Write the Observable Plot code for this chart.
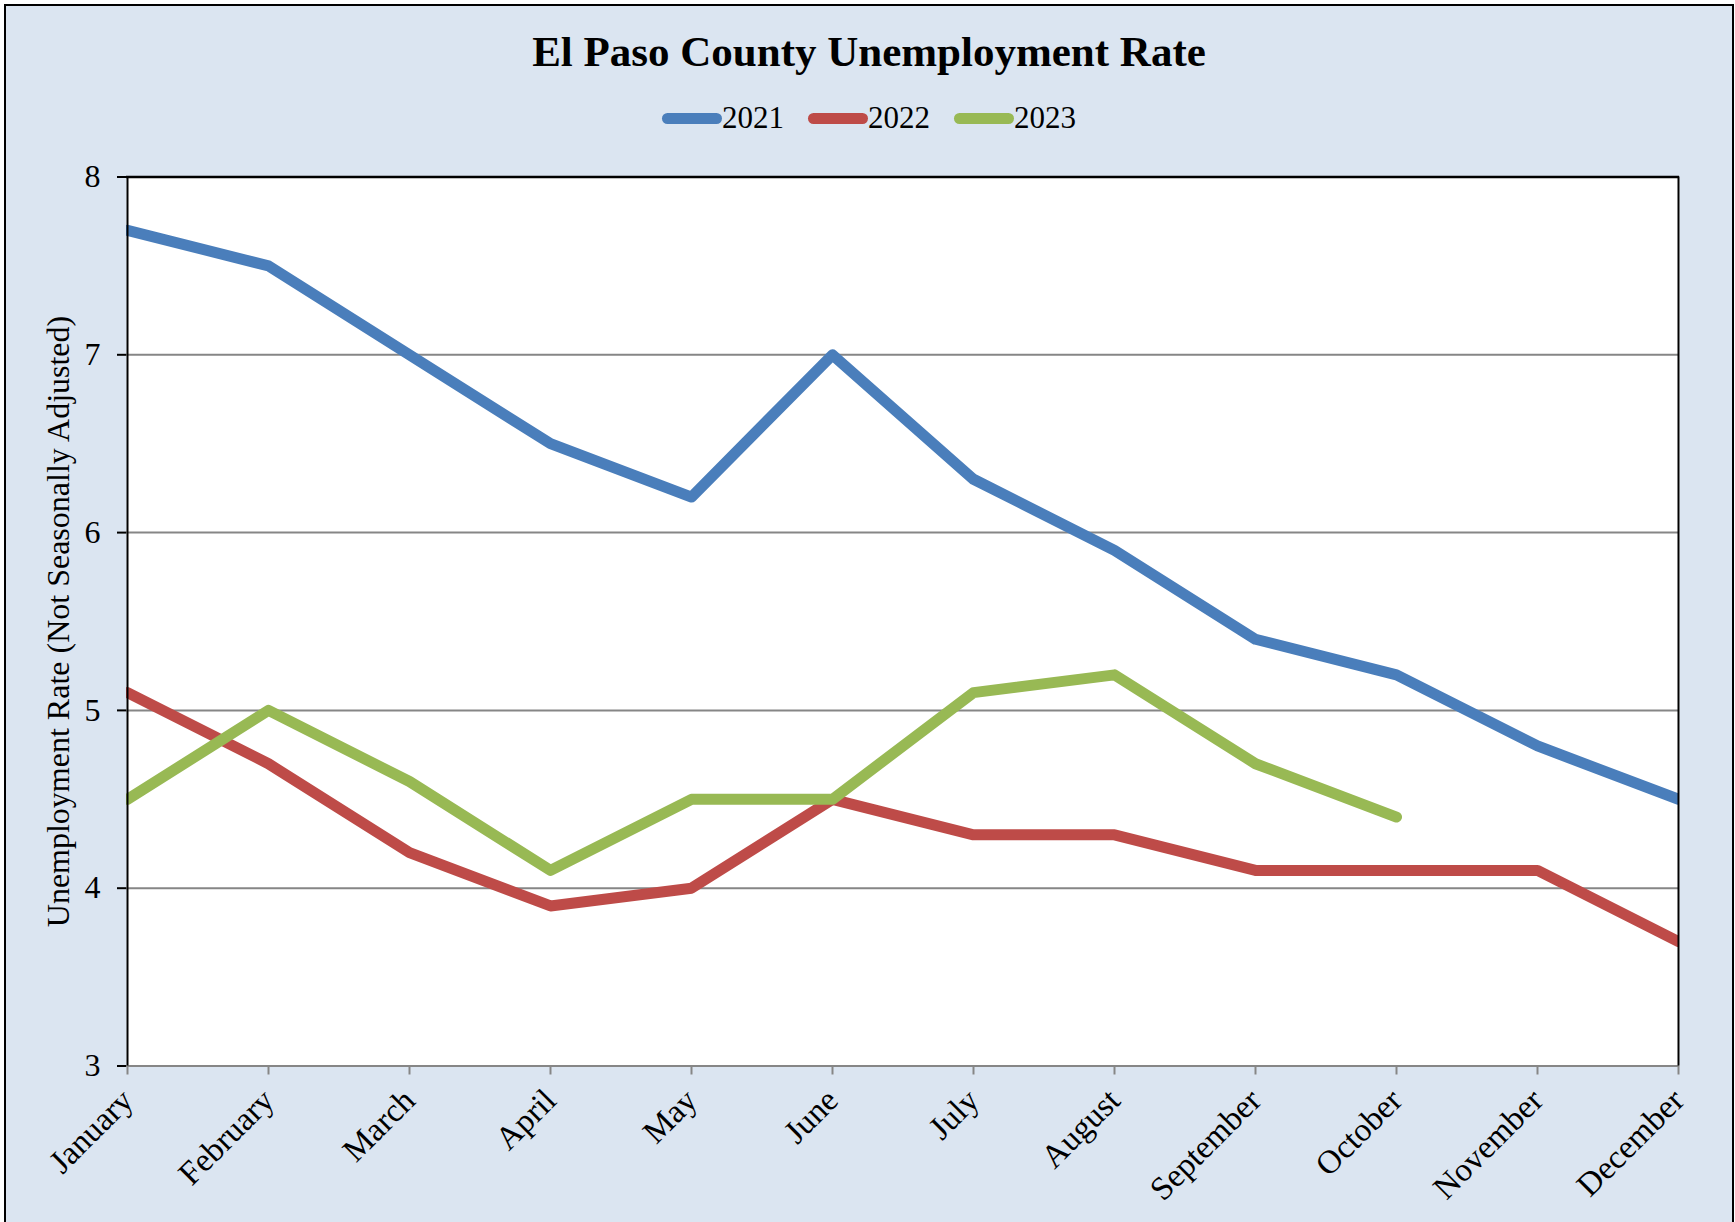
<!DOCTYPE html>
<html>
<head>
<meta charset="utf-8">
<script src="https://cdn.jsdelivr.net/npm/d3@7"></script>
<script src="https://cdn.jsdelivr.net/npm/@observablehq/plot@0.6"></script>
<style>
  html, body { margin: 0; padding: 0; background: #fff; }
  body { width: 1735px; height: 1222px; position: relative; overflow: hidden; font-family: "Liberation Serif", "Times New Roman", serif; }
  #frame { position: absolute; left: 4px; top: 4px; width: 1730px; height: 1240px; box-sizing: border-box; border: 2px solid #000; background: #dbe5f1; }
  #title { position: absolute; left: 0; top: 28px; width: 1738px; text-align: center; font-weight: bold; font-size: 43px; line-height: 48px; color: #000; }
  #legend { position: absolute; left: 0; top: 100px; width: 1738px; display: flex; justify-content: center; align-items: center; font-size: 31px; line-height: 36px; color: #000; }
  .item { display: flex; align-items: center; margin: 0 12px; }
  .sw { width: 60px; height: 11px; border-radius: 5.5px; }
  #chart { position: absolute; left: 0; top: 140px; }
</style>
</head>
<body>
<div id="frame"></div>
<div id="title">El Paso County Unemployment Rate</div>
<div id="legend"></div>
<div id="chart"></div>
<script>
const months = ["January","February","March","April","May","June","July","August","September","October","November","December"];
const years = ["2021","2022","2023"];
const colors = ["#4a7ebb","#be4b48","#98b954"];
const rate2021 = [7.7, 7.5, 7.0, 6.5, 6.2, 7.0, 6.3, 5.9, 5.4, 5.2, 4.8, 4.5];
const rate2022 = [5.1, 4.7, 4.2, 3.9, 4.0, 4.5, 4.3, 4.3, 4.1, 4.1, 4.1, 3.7];
const rate2023 = [4.5, 5.0, 4.6, 4.1, 4.5, 4.5, 5.1, 5.2, 4.7, 4.4];
const yTicks = [3, 4, 5, 6, 7, 8];
const gridTicks = [4, 5, 6, 7];
const yTitle = "Unemployment Rate (Not Seasonally Adjusted)";

const series = [rate2021, rate2022, rate2023];
const rows = [];
series.forEach((vals, i) => vals.forEach((v, j) => rows.push({year: years[i], month: months[j], rate: v})));

// legend
const legend = document.getElementById("legend");
years.forEach((y, i) => {
  const item = document.createElement("div");
  item.className = "item";
  const sw = document.createElement("div");
  sw.className = "sw";
  sw.style.background = colors[i];
  const t = document.createElement("span");
  t.textContent = y;
  item.appendChild(sw);
  item.appendChild(t);
  legend.appendChild(item);
});

const chart = Plot.plot({
  width: 1735,
  height: 1082,
  marginLeft: 126,
  marginRight: 56,
  marginTop: 36.5,
  marginBottom: 156.5,
  style: { background: "transparent", fontFamily: "Liberation Serif", color: "#000", overflow: "visible" },
  x: { type: "point", domain: months, padding: 0, label: null },
  y: { domain: [3, 8], label: null },
  color: { domain: years, range: colors },
  marks: [
    Plot.frame({ fill: "white", stroke: null }),
    Plot.gridY(gridTicks, { stroke: "#868686", strokeOpacity: 1, strokeWidth: 2 }),
    Plot.line(rows, { x: "month", y: "rate", z: "year", stroke: "year", strokeWidth: 11, strokeLinejoin: "round", strokeLinecap: "round", clip: "frame" }),
    Plot.ruleY([3], { stroke: "#868686", strokeWidth: 2 }),
    Plot.axisX({ tickRotate: -45, tickSize: 9, stroke: "#868686", strokeWidth: 2, tickPadding: 20, fontSize: 33, color: "#000", label: null }),
    Plot.ruleY([8], { stroke: "#000", strokeWidth: 2.5 }),
    Plot.ruleX([months[0]], { stroke: "#000", strokeWidth: 2 }),
    Plot.ruleX([months[months.length - 1]], { stroke: "#000", strokeWidth: 2 }),
    Plot.axisY({ ticks: yTicks, tickFormat: d => String(d), tickSize: 9, stroke: "#000", strokeWidth: 2, tickPadding: 17, fontSize: 32, label: null }),
    Plot.text([yTitle], { frameAnchor: "left", rotate: -90, dx: -68, textAnchor: "middle", lineAnchor: "middle", fontSize: 32, fill: "#000", text: d => d })
  ]
});
document.getElementById("chart").appendChild(chart);
</script>
</body>
</html>
